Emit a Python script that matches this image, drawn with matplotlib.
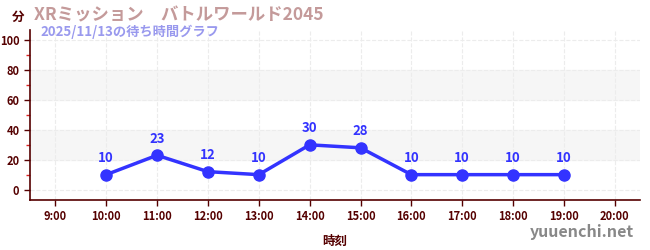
import matplotlib
matplotlib.use("Agg")
import matplotlib.pyplot as plt
from matplotlib.ticker import MultipleLocator

plt.rcParams['font.family'] = ['Noto Sans CJK JP', 'DejaVu Sans']

# data
hours = [10, 11, 12, 13, 14, 15, 16, 17, 18, 19]
waits = [10, 23, 12, 10, 30, 28, 10, 10, 10, 10]
tick_hours = list(range(9, 21))
tick_labels = [f"{h}:00" for h in tick_hours]
title = "XRミッション　バトルワールド2045"
subtitle = "2025/11/13の待ち時間グラフ"

axis_col = '#550000'
line_col = '#3333ff'

fig = plt.figure(figsize=(6.5, 2.5), dpi=100)
ax = fig.add_axes([0.046, 0.2, 0.939, 0.68])

ax.set_xlim(8.5, 20.5)
ax.set_ylim(-7, 107)

# shaded bands
for lo, hi in [(20, 40), (60, 80)]:
    ax.axhspan(lo, hi, color='#f6f6f6', zorder=0)

ax.set_xticks(tick_hours)
ax.set_xticklabels(tick_labels)
ax.set_yticks([0, 20, 40, 60, 80, 100])
ax.yaxis.set_minor_locator(MultipleLocator(10))
ax.grid(True, which='major', color='#ececec', linestyle='--', linewidth=0.8, zorder=0)

for s in ['top', 'right']:
    ax.spines[s].set_visible(False)
for s in ['left', 'bottom']:
    ax.spines[s].set_color(axis_col)
    ax.spines[s].set_linewidth(1.2)

ax.tick_params(axis='both', colors=axis_col, labelsize=8, length=4, width=1)
ax.tick_params(axis='y', which='minor', colors='#dd2222', length=3, width=1)
for lbl in ax.get_xticklabels() + ax.get_yticklabels():
    lbl.set_color(axis_col)
    lbl.set_fontweight('bold')

ax.plot(hours, waits, color=line_col, linewidth=2.5, marker='o', markersize=8, zorder=3)
for h, w in zip(hours, waits):
    ax.annotate(str(w), (h, w), xytext=(0, 7), textcoords='offset points',
                ha='center', va='bottom', color=line_col, fontsize=9.5, fontweight='bold')

ax.set_xlabel('時刻', color=axis_col, fontsize=9, fontweight='bold', labelpad=8)

fig.text(0.018, 0.93, '分', color=axis_col, fontsize=9, fontweight='bold', va='center')
fig.text(0.052, 0.94, title, color='#c49a9a', fontsize=12.5, fontweight='bold', va='center')
fig.text(0.062, 0.873, subtitle, color='#9999ee', fontsize=9.5, fontweight='bold', va='center')
fig.text(0.975, 0.07, 'yuuenchi.net', color='#888888', fontsize=11.5, fontweight='bold',
         ha='right', va='center')

fig.savefig('out.png', dpi=100)
